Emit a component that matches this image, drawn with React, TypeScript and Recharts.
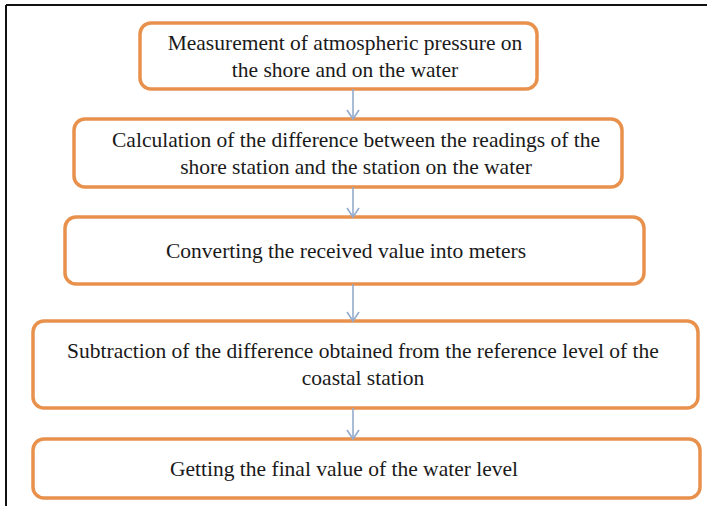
import React from "react";
import {
  ComposedChart,
  XAxis,
  YAxis,
  ReferenceArea,
  ReferenceLine,
} from "recharts";

// step texts, one entry per box (lines already broken as in the figure)
const stepLines: string[][] = [
  ["Measurement of atmospheric pressure on", "the shore and on the water"],
  [
    "Calculation of the difference between the readings of the",
    "shore station and the station on the water",
  ],
  ["Converting the received value into meters"],
  [
    "Subtraction of the difference obtained from the reference level of the",
    "coastal station",
  ],
  ["Getting the final value of the water level"],
];

// box extents (chart units)
const boxLeft = [140, 74, 65, 33, 33];
const boxRight = [537, 622, 644, 698, 700];
const boxTop = [23, 119, 217, 321, 439];
const boxBottom = [89, 187, 284, 408, 498];
// where each text block is centred horizontally
const labelX = [345, 356, 346, 363, 344];

const arrowX = 353;

const W = 708;
const H = 506;

const BOX_COLOR = "#E8914D";
const ARROW_COLOR = "#94ABCB";
const FONT = "'Liberation Serif', 'Times New Roman', serif";

const makeBoxShape = (lines: string[], tx: number) => (props: any) => {
  const { x, y, width, height, xAxis } = props;
  const cx = xAxis && xAxis.scale ? xAxis.scale(tx) : tx;
  const cy = y + height / 2;
  const pitch = 27;
  const first = cy - ((lines.length - 1) * pitch) / 2;
  return (
    <g>
      <rect
        x={x}
        y={y}
        width={width}
        height={height}
        rx={11}
        ry={11}
        fill="#fff"
        stroke={BOX_COLOR}
        strokeWidth={3.5}
      />
      {lines.map((t, i) => (
        <text
          key={i}
          x={cx}
          y={first + i * pitch}
          textAnchor="middle"
          dominantBaseline="central"
          fontFamily={FONT}
          fontSize={21.5}
          fill="#1a1a1a"
        >
          {t}
        </text>
      ))}
    </g>
  );
};

const ArrowShape = (props: any) => {
  const { x1, y1, x2, y2 } = props;
  return (
    <g>
      <line x1={x1} y1={y1} x2={x2} y2={y2} stroke={ARROW_COLOR} strokeWidth={1.6} />
      <polyline
        points={`${x2 - 6},${y2 - 9} ${x2},${y2} ${x2 + 6},${y2 - 9}`}
        fill="none"
        stroke={ARROW_COLOR}
        strokeWidth={1.6}
      />
    </g>
  );
};

export default function App() {
  return (
    <div style={{ position: "absolute", left: 0, top: 0, width: W, height: H, background: "#fff" }}>
      <ComposedChart
        width={W}
        height={H}
        data={stepLines.map((_, i) => ({ step: i }))}
        margin={{ top: 0, right: 0, bottom: 0, left: 0 }}
      >
        <XAxis type="number" dataKey="step" domain={[0, W]} allowDataOverflow hide />
        <YAxis type="number" domain={[0, H]} allowDataOverflow reversed hide />

        {/* frame */}
        <ReferenceLine
          segment={[{ x: 6, y: 5 }, { x: 707, y: 5 }]}
          stroke="#111"
          strokeWidth={2}
          ifOverflow="visible"
        />
        <ReferenceLine
          segment={[{ x: 6, y: 5 }, { x: 6, y: H }]}
          stroke="#111"
          strokeWidth={2}
          ifOverflow="visible"
        />

        {/* arrows between steps */}
        {boxBottom.slice(0, -1).map((b, i) => (
          <ReferenceLine
            key={`arrow-${i}`}
            segment={[{ x: arrowX, y: b }, { x: arrowX, y: boxTop[i + 1] }]}
            shape={ArrowShape}
            ifOverflow="visible"
          />
        ))}

        {/* boxes */}
        {stepLines.map((lines, i) => (
          <ReferenceArea
            key={`box-${i}`}
            x1={boxLeft[i]}
            x2={boxRight[i]}
            y1={boxTop[i]}
            y2={boxBottom[i]}
            shape={makeBoxShape(lines, labelX[i])}
            ifOverflow="visible"
          />
        ))}
      </ComposedChart>
    </div>
  );
}
